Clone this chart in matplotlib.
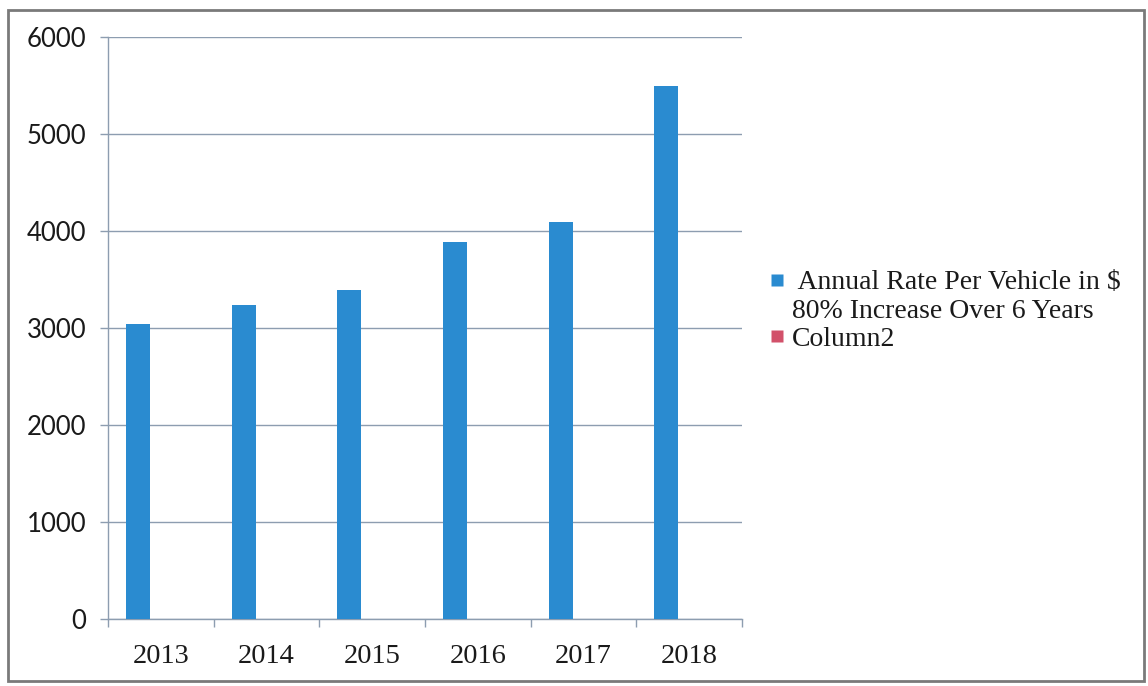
import matplotlib
matplotlib.use("Agg")
import matplotlib.pyplot as plt
from matplotlib.patches import Rectangle
from matplotlib.lines import Line2D
import numpy as np

years = ["2013", "2014", "2015", "2016", "2017", "2018"]
annual_rate = [3040, 3240, 3390, 3890, 4090, 5500]
column2 = [0, 0, 0, 0, 0, 0]
y_ticks = [0, 1000, 2000, 3000, 4000, 5000, 6000]

label1 = " Annual Rate Per Vehicle in $"
label1b = "80% Increase Over 6 Years"
label2 = "Column2"

blue = "#2a8bd0"
red = "#d2516a"
grid_c = "#8d9db0"

W, H = 1148, 686
fig = plt.figure(figsize=(W / 100, H / 100), dpi=100)
fig.patch.set_facecolor("white")

ax = fig.add_axes([108 / W, 1 - 619 / H, (742 - 108) / W, (619 - 37) / H])

x = np.arange(len(years))
bw = 0.23
ax.bar(x - 0.216, annual_rate, width=bw, color=blue, zorder=3)
ax.bar(x - 0.216 + bw, column2, width=bw, color=red, zorder=3)

ax.set_xlim(-0.5, len(years) - 0.5)
ax.set_ylim(0, 6000)
ax.set_yticks(y_ticks)
ax.set_yticklabels([str(v) for v in y_ticks], fontsize=18.5, family="Lato", color="#1a1a1a")
ax.set_xticks(x)
ax.set_xticklabels(years, fontsize=20.5, family="Liberation Serif", color="#1a1a1a")
ax.tick_params(axis="x", length=0, pad=18)
ax.set_xticks(np.arange(-0.5, len(years)), minor=True)
ax.tick_params(axis="x", which="minor", length=6, color=grid_c, width=1, direction="out")
ax.tick_params(axis="y", length=6, color=grid_c, width=1, pad=9.5)

ax.yaxis.grid(True, color=grid_c, linewidth=1, zorder=0)
for s in ["top", "right"]:
    ax.spines[s].set_visible(False)
for s in ["left", "bottom"]:
    ax.spines[s].set_color(grid_c)
    ax.spines[s].set_linewidth(1)

msz = 12 * 0.72
handles = [
    Line2D([], [], linestyle="none", marker="s", markersize=msz,
           markerfacecolor=blue, markeredgecolor="none"),
    Line2D([], [], linestyle="none", marker="none"),
    Line2D([], [], linestyle="none", marker="s", markersize=msz,
           markerfacecolor=red, markeredgecolor="none"),
]
leg = fig.legend(handles, [label1, label1b, label2],
                 loc="upper left", bbox_to_anchor=(771 / W, 1 - 270 / H),
                 frameon=False, prop={"family": "Liberation Serif", "size": 20},
                 handlelength=0.43, handletextpad=0.32,
                 labelspacing=0.1, borderaxespad=0, borderpad=0)
for t in leg.get_texts():
    t.set_color("#1a1a1a")

fig.patches.append(Rectangle((8 / W, 1 - 681 / H), (1144 - 8) / W, (681 - 10) / H,
                             transform=fig.transFigure, fill=False,
                             edgecolor="#7a7a7a", linewidth=2))

fig.savefig("out.png", dpi=100)
